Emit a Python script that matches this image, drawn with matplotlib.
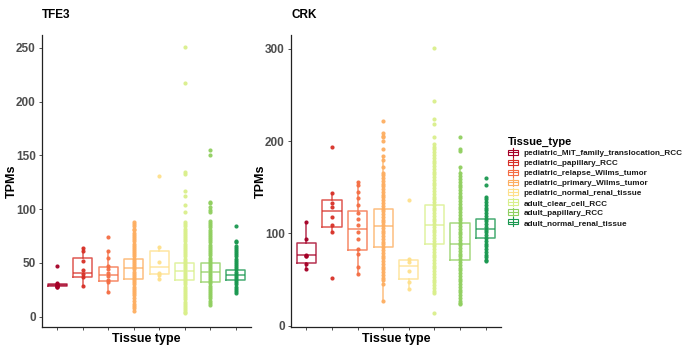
import matplotlib
matplotlib.use("Agg")
import matplotlib.pyplot as plt
from matplotlib.patches import Patch, Rectangle
from matplotlib.lines import Line2D
from matplotlib.legend_handler import HandlerBase

plt.rcParams['font.family'] = ['Liberation Sans', 'DejaVu Sans']
plt.rcParams['font.weight'] = 'bold'

# categories / colours
tissues = ['pediatric_MiT_family_translocation_RCC', 'pediatric_papillary_RCC',
           'pediatric_relapse_Wilms_tumor', 'pediatric_primary_Wilms_tumor',
           'pediatric_normal_renal_tissue', 'adult_clear_cell_RCC',
           'adult_papillary_RCC', 'adult_normal_renal_tissue']
colors = ['#A50026', '#D73027', '#F46D43', '#FDAE61',
          '#FEE08B', '#D9EF8B', '#91CF60', '#1A9850']

# ---- TFE3 ----
tfe3_points = [
    [47, 31, 30, 29.5, 29, 28.5, 28, 27.5],
    [64, 61, 52, 43, 40, 37, 28.5],
    [74, 61, 55, 47, 44, 40.5, 37.5, 34.5, 32, 23],
    [88, 86, 84, 82, 81, 78, 76, 74, 72, 70, 68, 66, 64, 62, 60, 58, 56, 54, 52, 50,
     48, 46, 44, 42, 40, 38, 36, 34, 32, 30, 28, 26, 24, 22, 20, 17, 15, 12, 10, 8, 5],
    [131, 65, 51, 41, 38.5, 35],
    [251, 217, 135, 133, 117, 112, 104, 97, 88, 86, 84, 82, 80, 78, 76, 74, 72, 70,
     68, 66, 64, 62, 60, 58, 56, 54, 52, 50, 48, 46, 44, 42, 40, 38, 36, 34, 32, 30,
     28, 26, 24, 22, 20, 18, 16, 14, 12, 10, 8, 6, 4, 3],
    [155, 150, 107, 106, 102, 99, 97, 89, 87, 85, 83, 81, 79, 77, 75, 73, 71, 69, 67,
     65, 63, 61, 59, 57, 55, 53, 51, 49, 47, 45, 43, 41, 39, 37, 35, 33, 31, 29, 27,
     25, 23, 21, 19, 17, 15, 13, 11],
    [84, 70, 69, 66, 64, 62, 60, 58, 56, 54, 52, 50, 48, 46, 44, 42, 40, 38, 36, 34,
     32, 30, 28, 26, 24, 22],
]
tfe3_q1 = [28.5, 37, 33.5, 34.7, 39.3, 34, 32.6, 33.9]
tfe3_med = [29.5, 40.5, 38.8, 44.9, 45.8, 42.6, 41.3, 38.5]
tfe3_q3 = [30.5, 54.6, 45.9, 53.6, 61.3, 49.9, 49.6, 43.8]
tfe3_lo = [27.5, 28.5, 23, 8, 35, 10, 11, 22]
tfe3_hi = [31, 64, 61, 81, 65, 74, 75, 58]

# ---- CRK ----
crk_points = [
    [112, 94, 77, 76, 75, 66.5, 61],
    [194, 144, 133, 129, 118, 109, 101, 52],
    [156, 152, 145, 138, 131, 122, 116, 109, 101, 93.5, 83, 78, 64, 56.5],
    [222, 209, 206, 204, 200, 192, 184, 180, 172, 166, 163, 160, 157, 154, 151, 148,
     145, 142, 139, 136, 133, 130, 127, 124, 121, 118, 115, 112, 109, 106, 103, 100,
     97, 94, 91, 88, 85, 82, 79, 76, 73, 70, 67, 64, 61, 58, 55, 52, 49, 45, 27],
    [136, 72.5, 68.5, 59.5, 47.5, 39.5],
    [301, 244, 224, 219, 204, 197, 194, 191, 188, 185, 182, 179, 176, 173, 170, 167,
     164, 161, 158, 155, 152, 149, 146, 143, 140, 137, 134, 131, 128, 125, 122, 119,
     116, 113, 110, 107, 104, 101, 98, 95, 92, 89, 86, 83, 80, 77, 74, 71, 68, 65,
     62, 59, 56, 53, 50, 47, 44, 41, 38, 35, 14],
    [204, 192, 189, 171.5, 165, 162, 159, 156, 153, 150, 147, 144, 141, 138, 135, 132,
     129, 126, 123, 120, 117, 114, 111, 108, 105, 102, 99, 96, 93, 90, 87, 84, 81, 78,
     75, 72, 69, 66, 63, 60, 57, 54, 51, 48, 45, 42, 39, 36, 33, 30, 27, 25, 23],
    [160, 153, 140, 137, 134, 131, 128, 125, 122, 119, 116, 113, 110, 107, 104, 101,
     98, 95, 92, 89, 86, 83, 80, 77, 74, 71, 70],
]
crk_q1 = [68.4, 107, 81.7, 85.6, 50.4, 88.5, 70.9, 95]
crk_med = [76.3, 124, 105, 108, 64.4, 109.4, 88.8, 104.7]
crk_q3 = [90, 136, 124.5, 126.6, 71, 131, 111.5, 115.8]
crk_lo = [61, 101, 56.5, 27, 39.5, 35, 23, 70]
crk_hi = [112, 144, 156, 184, 72.5, 194, 171.5, 140]


def panel(ax, title, pts, q1, med, q3, lo, hi, ylim, yticks):
    for i, c in enumerate(colors):
        st = [{'q1': q1[i], 'med': med[i], 'q3': q3[i], 'whislo': lo[i], 'whishi': hi[i], 'fliers': []}]
        lp = dict(color=c, lw=1.1, alpha=0.8)
        ax.bxp(st, positions=[i + 1], widths=0.75, showcaps=False, showfliers=False,
               boxprops=lp, whiskerprops=lp, medianprops=lp, manage_ticks=False)
        ax.scatter([i + 1] * len(pts[i]), pts[i], s=9, color=c, alpha=0.95,
                   linewidths=0, zorder=3)
    ax.set_xlim(0.4, 8.6)
    ax.set_ylim(*ylim)
    ax.set_xticks(range(1, 9))
    ax.set_xticklabels([])
    ax.set_yticks(yticks)
    ax.tick_params(axis='both', length=2.5, width=0.6, color='#333333',
                   labelsize=8.5, labelcolor='#4D4D4D', pad=2)
    for s in ['top', 'right']:
        ax.spines[s].set_visible(False)
    for s in ['left', 'bottom']:
        ax.spines[s].set_color('#222222')
        ax.spines[s].set_linewidth(0.9)
    ax.set_ylabel('TPMs', fontsize=9, fontweight='bold')
    ax.yaxis.set_label_coords(-24 / 209, 0.5)
    ax.set_xlabel('Tissue type', fontsize=9, fontweight='bold', labelpad=0)
    ax.set_title(title, loc='left', fontsize=8.5, fontweight='bold', pad=12, x=0.0)


class BoxKey(HandlerBase):
    def create_artists(self, legend, orig, xd, yd, w, h, fs, trans):
        c = orig.get_facecolor()
        x0, y0 = -xd, -yd
        cx = x0 + w / 2
        a = []
        a.append(Line2D([cx, cx], [y0 - 0.1 * h, y0 + 1.1 * h], color=c, lw=0.8, transform=trans))
        a.append(Rectangle((x0, y0 + 0.15 * h), w, 0.7 * h, fill=False, ec=c, lw=0.8, transform=trans))
        a.append(Line2D([x0, x0 + w], [y0 + 0.5 * h] * 2, color=c, lw=0.8, transform=trans))
        return a


fig = plt.figure(figsize=(6.85, 3.47), dpi=100)
ax1 = fig.add_axes([42 / 685, 20 / 347, 209 / 685, 292 / 347])
ax2 = fig.add_axes([291 / 685, 20 / 347, 210 / 685, 292 / 347])

panel(ax1, 'TFE3', tfe3_points, tfe3_q1, tfe3_med, tfe3_q3, tfe3_lo, tfe3_hi,
      (-9.6, 262), [0, 50, 100, 150, 200, 250])
panel(ax2, 'CRK', crk_points, crk_q1, crk_med, crk_q3, crk_lo, crk_hi,
      (-1.4, 315), [0, 100, 200, 300])

handles = [Patch(facecolor=c) for c in colors]
leg = fig.legend(handles, tissues, loc='upper left', bbox_to_anchor=(508 / 685, 1 - 137 / 347),
                 frameon=False, fontsize=5.9, title='Tissue_type',
                 handler_map={Patch: BoxKey()}, handlelength=1.2, handleheight=1.0,
                 handletextpad=0.7, labelspacing=0.18, borderpad=0, borderaxespad=0)
leg.get_title().set_fontsize(8)
leg.get_title().set_fontweight('bold')
leg._legend_box.align = 'left'
for t in leg.get_texts():
    t.set_color('#1a1a1a')

fig.savefig('out.png', dpi=100)
